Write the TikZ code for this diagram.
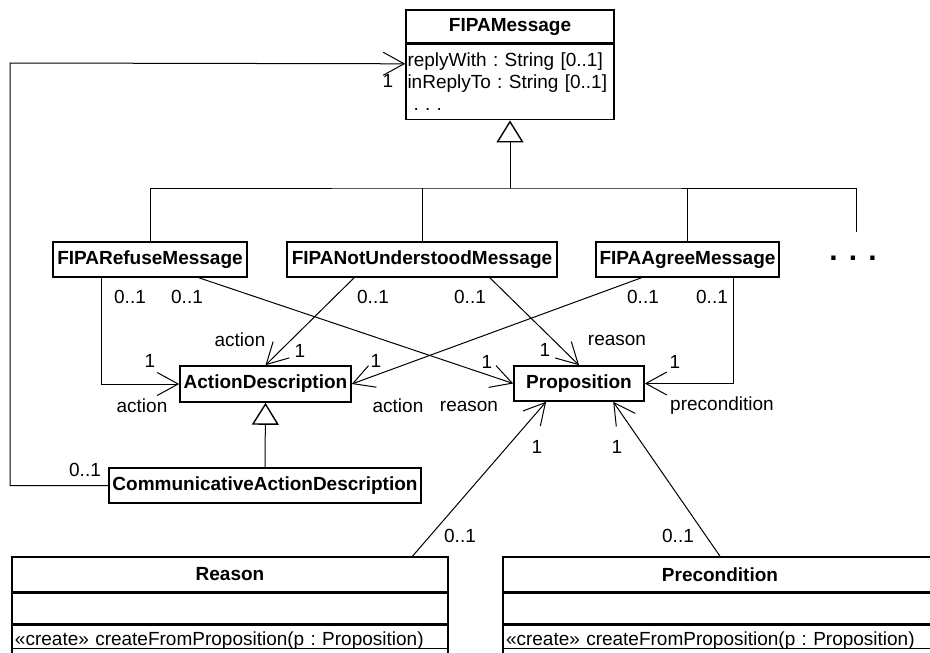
\documentclass[tikz,border=0pt]{standalone}
\usepackage{fontspec}
\setmainfont{Liberation Sans}
\usetikzlibrary{positioning,calc,arrows.meta}
\def\UmlFont{\fontsize{19}{22}\selectfont\frenchspacing}
\def\BoxLine{1.6pt}

\begin{document}
\begin{tikzpicture}[x=1pt,y=-1pt,font=\UmlFont,line width=1pt,
    cls/.style={draw,line width=\BoxLine,inner sep=0pt,minimum height=35pt,font=\UmlFont\bfseries},
    compart/.style={draw,line width=\BoxLine,inner sep=0pt,font=\UmlFont,align=left},
    assoc/.style={-{Straight Barb[length=21pt,width=23pt]}},
    gen/.style={-{Triangle[open,length=22pt,width=27pt,line width=1.4pt]}},
    mult/.style={inner sep=0pt}]
    \clip (0,0) rectangle (930,653);
    % top class
    \node[cls,minimum width=208pt,minimum height=33pt] (msg) at (510,26.5) {FIPAMessage};
    \node[compart,below=0pt of msg,minimum width=208pt,minimum height=75pt,text width=205pt] (msgattr)
        {replyWith : String [0..1]\\inReplyTo : String [0..1]\\\hspace*{6pt}. . .};
    % message subclasses
    \node[cls,minimum width=194pt] (refuse) at (150,259.5) {FIPARefuseMessage};
    \node[cls,minimum width=270pt] (notund) at (422,259.5) {FIPANotUnderstoodMessage};
    \node[cls,minimum width=183pt] (agree) at (687.5,259.5) {FIPAAgreeMessage};
    \node[mult,font=\fontsize{30}{32}\selectfont\bfseries] (more) at (853,258) {. . .};
    \coordinate (moreTop) at (856,232);
    \coordinate (bus) at (510,188);
    % content classes
    \node[cls,minimum width=171pt,minimum height=36pt] (actdesc) at (265.5,384) {ActionDescription};
    \node[cls,minimum width=130pt] (prop) at (579,383.5) {Proposition};
    \node[cls,minimum width=312pt] (commact) at (265,485.5) {CommunicativeActionDescription};
    % 
    \node[cls,minimum width=436pt] (reason) at (230,574.5) {Reason};
    \node[compart,below=0pt of reason,minimum width=436pt,minimum height=30pt] (reasonattr) {};
    \node[compart,below=0pt of reasonattr,minimum width=436pt,minimum height=30pt,text width=430pt] (reasonops)
        {«create» createFromProposition(p : Proposition)};
    \node[cls,minimum width=434pt] (precond) at (720,574.5) {Precondition};
    \node[compart,below=0pt of precond,minimum width=434pt,minimum height=30pt] (precondattr) {};
    \node[compart,below=0pt of precondattr,minimum width=434pt,minimum height=30pt,text width=428pt] (precondops)
        {«create» createFromProposition(p : Proposition)};
    \draw ($(reasonops.south west)+(0,-8)$) -- ($(reasonops.south east)+(0,-8)$);
    \draw ($(precondops.south west)+(0,-8)$) -- ($(precondops.south east)+(0,-8)$);
    % 
    \coordinate (msgIn) at ($(msgattr.north west)+(0,20)$);
    \coordinate (loop) at (10,63);
    \coordinate (refuseA) at ($(refuse.south west)!0.25!(refuse.south east)$);
    \coordinate (refuseB) at ($(refuse.south west)!0.75!(refuse.south east)$);
    \coordinate (notundA) at ($(notund.south west)!0.25!(notund.south east)$);
    \coordinate (notundB) at ($(notund.south west)!0.75!(notund.south east)$);
    \coordinate (agreeA) at ($(agree.south west)!0.25!(agree.south east)$);
    \coordinate (agreeB) at ($(agree.south west)!0.75!(agree.south east)$);
    \coordinate (propA) at ($(prop.south west)!0.25!(prop.south east)$);
    \coordinate (propB) at ($(prop.south west)!0.76!(prop.south east)$);
    \coordinate (reasonTop) at ($(reason.north west)!0.917!(reason.north east)$);
    % generalisations
    \draw[gen] (bus) -- (msgattr.south);
    \draw (refuse.north) |- (bus) -| (moreTop);
    \draw (notund.north) -- (notund.north |- bus);
    \draw (agree.north) -- (agree.north |- bus);
    \draw[gen] (commact.north) -- (actdesc.south);
    % associations
    \draw[assoc] (commact.west) -| (loop) -- (msgIn);
    \draw[assoc] (refuseA) |- (actdesc.west);
    \draw[assoc] (refuseB) -- (prop.west);
    \draw[assoc] (notundA) -- (actdesc.north);
    \draw[assoc] (notundB) -- (prop.north);
    \draw[assoc] (agreeA) -- (actdesc.east);
    \draw[assoc] (agreeB) |- (prop.east);
    \draw[assoc] (reasonTop) -- (propA);
    \draw[assoc] (precond.north) -- (propB);
    % multiplicities and roles
    \node[mult] (mMsg) at (388,81) {1};
    \node[mult] (mComm) at (85,470) {0..1};
    \node[mult] (mRefA) at (130,297) {0..1};
    \node[mult] (mRefB) at (187,297) {0..1};
    \node[mult] (mNotA) at (373,297) {0..1};
    \node[mult] (mNotB) at (470,297) {0..1};
    \node[mult] (mAgrA) at (643,297) {0..1};
    \node[mult] (mAgrB) at (712,297) {0..1};
    \node[mult] (mActL) at (150,361) {1};
    \node[mult] (rActL) at (142,406) {action};
    \node[mult] (rActT) at (240,340) {action};
    \node[mult] (mActT) at (300,351) {1};
    \node[mult] (mActR) at (376,361) {1};
    \node[mult] (rActR) at (398,406) {action};
    \node[mult] (mPropL) at (487,362) {1};
    \node[mult] (rPropL) at (469,406) {reason};
    \node[mult] (mPropT) at (545,350) {1};
    \node[mult] (rPropT) at (617,340) {reason};
    \node[mult] (mPropR) at (675,362) {1};
    \node[mult] (rPropR) at (722,406) {precondition};
    \node[mult] (mPropBA) at (537,447) {1};
    \node[mult] (mPropBB) at (617,447) {1};
    \node[mult] (mReason) at (460,536) {0..1};
    \node[mult] (mPrecond) at (678,536) {0..1};
\end{tikzpicture}
\end{document}
